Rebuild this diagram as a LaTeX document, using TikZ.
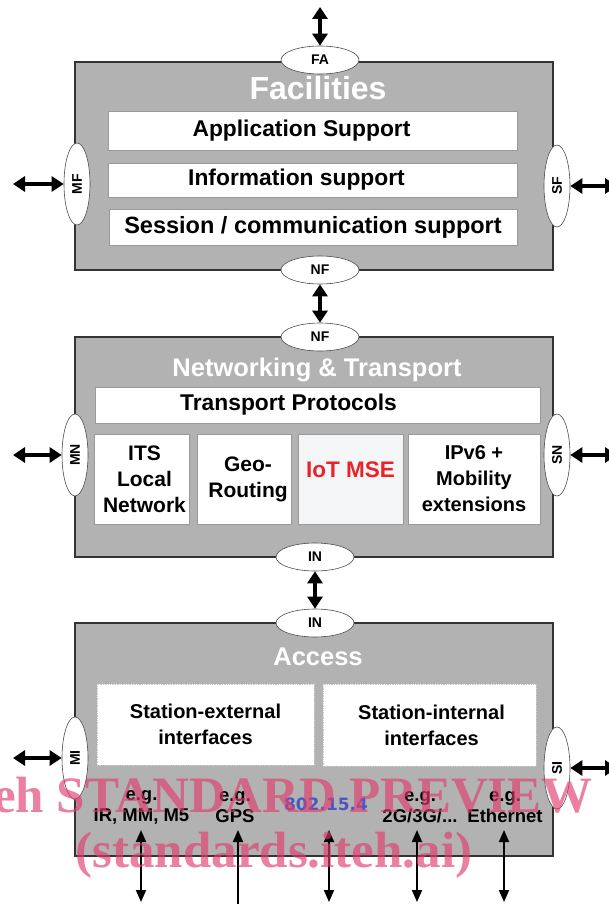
\documentclass[tikz,border=0pt]{standalone}
\usepackage{fontspec}
\setmainfont{Liberation Sans}
\newfontfamily\wmfont{Liberation Serif}
\newfontfamily\numfont{DejaVu Sans}
\usetikzlibrary{shapes.geometric, arrows.meta, positioning}

\definecolor{layergray}{RGB}{178,178,178}
\definecolor{iotred}{RGB}{232,35,42}
\definecolor{iotbg}{RGB}{244,245,247}
\definecolor{macblue}{RGB}{72,88,192}
\definecolor{wmpink}{RGB}{225,60,110}
\newcommand{\pxfont}[2]{\fontsize{#1}{#2}\selectfont}

\begin{document}
\begin{tikzpicture}[x=1pt, y=-1pt,
    layer/.style={draw=black!80, line width=1.5pt, fill=layergray},
    title/.style={text=white, font=\bfseries\pxfont{#1}{#1}},
    box/.style={draw=black!40, line width=0.7pt, fill=white, inner sep=0pt},
    lbl/.style={align=center, font=\bfseries\pxfont{#1}{26}},
    sap/.style={ellipse, draw=black!70, line width=0.6pt, fill=white, inner sep=0pt,
      minimum width=78pt, minimum height=28pt, font=\bfseries\pxfont{14}{14}},
    vsap/.style={sap, minimum width=82pt, minimum height=26pt, rotate=90},
    io/.style={{Triangle[width=15pt,length=12pt]}-{Triangle[width=15pt,length=12pt]},
      line width=3.2pt},
    phy/.style={{Triangle[width=10pt,length=12pt]}-{Triangle[width=10pt,length=12pt]},
      line width=1.8pt},
    eg/.style={align=center, font=\bfseries\pxfont{18.5}{21}},
    wm/.style={anchor=base west, text=wmpink, opacity=0.65, font=\wmfont\bfseries\pxfont{51}{51}}
  ]
  \useasboundingbox (0,0) rectangle (609,904);

  % Facilities layer
  \draw[layer] (75,62) rectangle (553,270);
  \node[title=32] (factitle) at (318,88) {Facilities};
  \node[box, minimum width=409pt, minimum height=39pt] (appsup) at (312.5,130.5) {};
  \node[box, minimum width=409pt, minimum height=34pt] (infosup) at (312.5,180) {};
  \node[box, minimum width=408pt, minimum height=36pt] (sessup) at (313,227) {};
  \node[lbl=22.8] at ([xshift=-11pt]appsup.center) {Application Support};
  \node[lbl=22.8] at ([xshift=-16pt]infosup.center) {Information support};
  \node[lbl=23.5] at (sessup.center) {Session / communication support};

  % Networking & Transport layer
  \draw[layer] (75,337) rectangle (553,557);
  \node[title=25.5] (nettitle) at (317,370) {Networking \& Transport};
  \node[box, minimum width=445pt, minimum height=36pt] (tproto) at (317.5,405) {};
  \node[lbl=22.8] at ([xshift=-29pt]tproto.center) {Transport Protocols};
  \node[box, minimum width=95pt, minimum height=90pt] (its) at (141.5,479) {};
  \node[box, minimum width=94pt, minimum height=90pt] (geo) at (244,479) {};
  \node[box, fill=iotbg, minimum width=105pt, minimum height=90pt] (iot) at (350.5,479) {};
  \node[box, minimum width=132pt, minimum height=90pt] (ipv6) at (474,479) {};
  \node[lbl=21] at ([xshift=3pt]its.center) {ITS\\Local\\Network};
  \node[lbl=21] at ([xshift=4pt]geo.center) {Geo-\\Routing};
  \node[text=iotred, font=\bfseries\pxfont{22.5}{22.5}] (iotlbl) at ([yshift=9pt]iot.center) {IoT MSE};
  \node[lbl=20] at (ipv6.center) {IPv6 +\\Mobility\\extensions};

  % Access layer
  \draw[layer] (75,623) rectangle (553,856);
  \node[title=25.5] (acctitle) at (318,657) {Access};
  \node[box, draw=black!20, densely dotted, minimum width=217pt, minimum height=81pt] (stext) at (205.5,724.5) {};
  \node[box, draw=black!20, densely dotted, minimum width=213pt, minimum height=82pt] (stint) at (429.5,725) {};
  \node[lbl=20] at (stext.center) {Station-external\\interfaces};
  \node[lbl=20] at ([xshift=2pt]stint.center) {Station-internal\\interfaces};
  \node[eg] (irmm) at (141.5,807.5) {e.g.\\IR, MM, M5};
  \node[eg] (gps) at (235,807.5) {e.g.\\GPS};
  \node[text=macblue, font=\numfont\bfseries\pxfont{17}{17}] (wpan) at (326,804) {802.15.4};
  \node[eg] (cell) at (420,807.5) {e.g.\\2G/3G/...};
  \node[eg] (eth) at (505,807.5) {e.g.\\Ethernet};

  % service access points
  \node[sap] (fa) at (320,60) {FA};
  \node[sap] (nfup) at (320,270) {NF};
  \node[sap] (nfdown) at (320,337) {NF};
  \node[sap] (inup) at (315,557) {IN};
  \node[sap] (indown) at (315,623) {IN};
  \node[vsap] (mf) at (77,184) {MF};
  \node[vsap] (sf) at (557,186) {SF};
  \node[vsap] (mn) at (75,455) {MN};
  \node[vsap] (sn) at (557,455) {SN};
  \node[vsap] (mi) at (75,758) {MI};
  \node[vsap] (si) at (557,768) {SI};

  % outer ends
  \coordinate (apps) at (320,7);
  \coordinate (mgmtF) at (13,184);
  \coordinate (secF) at (617,186);
  \coordinate (mgmtN) at (13,455);
  \coordinate (secN) at (617,455);
  \coordinate (mgmtI) at (13,758);
  \coordinate (secI) at (617,768);
  \foreach \n/\x in {irmm/141, gps/238, wpan/329, cell/417, eth/504}{
    \coordinate (\n-top) at (\x,830);
    \coordinate (\n-end) at (\x,902);
  }

  % interfaces
  \draw[io] (apps) -- (fa);
  \draw[io] (nfup) -- (nfdown);
  \draw[io] (inup) -- (indown);
  \draw[io] (mgmtF) -- (mf);
  \draw[io] (sf) -- (secF);
  \draw[io] (mgmtN) -- (mn);
  \draw[io] (sn) -- (secN);
  \draw[io] (mgmtI) -- (mi);
  \draw[io] (si) -- (secI);

  % media below the access layer
  \draw[phy] (irmm-top) -- (irmm-end);
  \draw[phy, {Triangle[width=10pt,length=12pt]}-] (gps-top) -- ([yshift=-3pt]gps-end);
  \draw[phy] (wpan-top) -- (wpan-end);
  \draw[phy] (cell-top) -- (cell-end);
  \draw[phy] (eth-top) -- (eth-end);

  % watermark
  \node[wm] (wmtop) at (-54,812) {iTeh STANDARD PREVIEW};
  \node[wm] (wmbot) at (72,867) {(standards.iteh.ai)};
\end{tikzpicture}
\end{document}
